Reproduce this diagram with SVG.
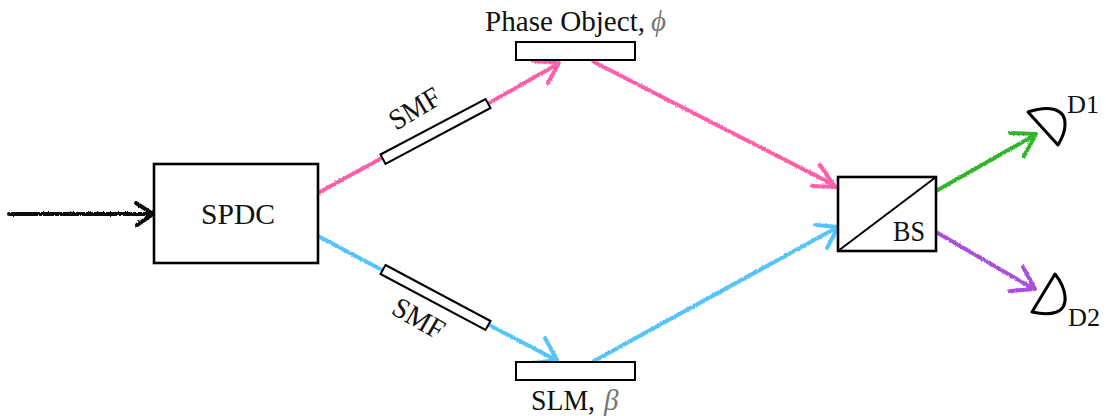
<svg xmlns="http://www.w3.org/2000/svg" width="1106" height="416" viewBox="0 0 1106 416">
<style>
.box{fill:#fff;stroke:#000;stroke-width:2}
.b3{stroke-width:2.6}
.lbl{font-family:"Liberation Serif","Times New Roman",serif;font-size:29px;fill:#111}
.sm{font-size:26px}
.sym{font-style:italic;fill:#777}
.c{fill:none;stroke-width:4;stroke-linecap:round;stroke-linejoin:round;filter:url(#rough)}
.pink{stroke:#ff5fa8}.blue{stroke:#55c4fb}.green{stroke:#33b52a}.purple{stroke:#a94fdc}.black{stroke:#111}
.det{fill:#fff;stroke:#000;stroke-width:3;stroke-linejoin:round}
</style>
<defs>
<filter id="rough" x="0" y="0" width="1106" height="416" filterUnits="userSpaceOnUse">
<feTurbulence type="fractalNoise" baseFrequency="0.6" numOctaves="2" seed="3"/>
<feDisplacementMap in="SourceGraphic" scale="2.6" xChannelSelector="R" yChannelSelector="G"/>
<feGaussianBlur stdDeviation="0.35"/>
</filter>
</defs>
<g id="connectors">
<path class="c black" d="M9,214 L152,214 M136,203 L153,214 L137,225"/>
<path class="c pink" d="M318,193 L382,158 M489,103 L556,65 M533,61 L559,63 L548,83"/>
<path class="c pink" d="M594,62 L834,185 M820,165 L835,187 L812,186"/>
<path class="c blue" d="M318,236 L382,270 M489,325 L556,360 M545,338 L557,360 L534,363"/>
<path class="c blue" d="M594,361 L836,228 M816,225 L838,227 L827,248"/>
<path class="c green" d="M936,191 L1035,135 M1010,133 L1036,134 L1024,156"/>
<path class="c purple" d="M936,232 L1034,289 M1023,267 L1035,289 L1010,291"/>
</g>
<g id="spdc"><rect class="box b3" x="154" y="164" width="164" height="99"/><text class="lbl" x="201" y="224" textLength="74" lengthAdjust="spacingAndGlyphs">SPDC</text></g>
<g id="phase-object"><rect class="box" x="516" y="42" width="119" height="18"/><text class="lbl" x="485" y="31" textLength="160" lengthAdjust="spacingAndGlyphs">Phase Object,</text><text class="lbl sym" x="651" y="31">ϕ</text></g>
<g id="slm"><rect class="box" x="516" y="362" width="119" height="18"/><text class="lbl" x="531" y="410" textLength="64" lengthAdjust="spacingAndGlyphs">SLM,</text><text class="lbl sym" x="604" y="410">β</text></g>
<g id="smf-top"><polygon class="box" points="380.5,154.5 485.5,99 490.5,108 385.5,164"/><text class="lbl" transform="translate(396,131) rotate(-31)" textLength="55" lengthAdjust="spacingAndGlyphs">SMF</text></g>
<g id="smf-bottom"><polygon class="box" points="385.5,265 490.5,321 485.5,330 380.5,274"/><text class="lbl" transform="translate(390,313) rotate(30)" textLength="55" lengthAdjust="spacingAndGlyphs">SMF</text></g>
<g id="bs"><rect class="box b3" x="838" y="177" width="98" height="74"/><line x1="838" y1="251" x2="936" y2="177" stroke="#000" stroke-width="2"/><text class="lbl" x="893" y="241" textLength="32" lengthAdjust="spacingAndGlyphs">BS</text></g>
<g id="d1"><path class="det" d="M1058,145 L1028,112 C1048,105 1066,108 1065,125 C1065,133 1061,140 1058,145 Z"/><text class="lbl sm" x="1067" y="113" textLength="32" lengthAdjust="spacingAndGlyphs">D1</text></g>
<g id="d2"><path class="det" d="M1055,274 L1032,312 C1050,316 1067,314 1065,296 C1064,287 1059,279 1055,274 Z"/><text class="lbl sm" x="1068" y="326" textLength="32" lengthAdjust="spacingAndGlyphs">D2</text></g>
</svg>
